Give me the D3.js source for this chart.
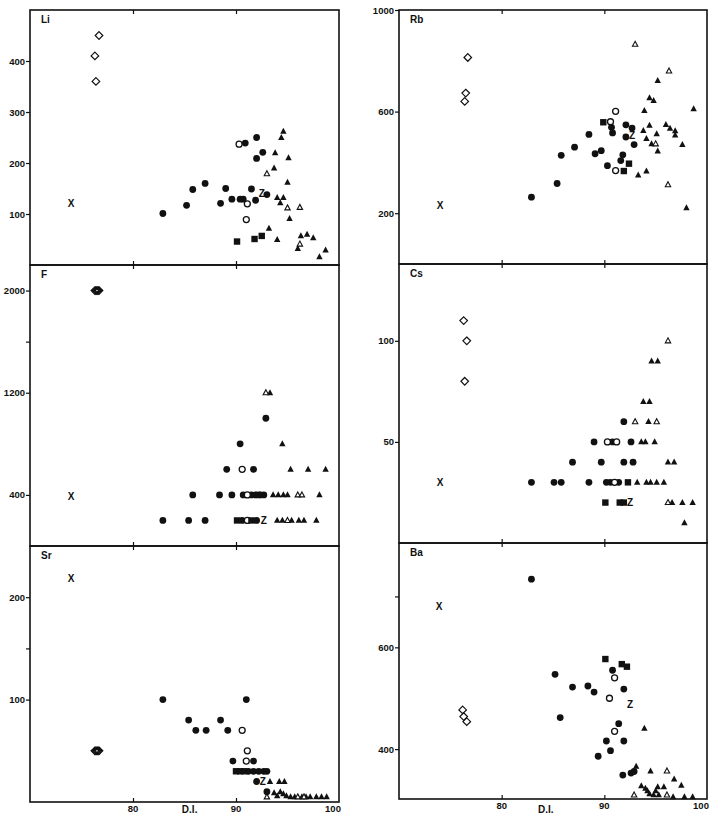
<!DOCTYPE html>
<html><head><meta charset="utf-8">
<script src="https://cdn.jsdelivr.net/npm/d3@7"></script>
<style>
body{margin:0;background:#fff}
text{font-family:"Liberation Sans",Arial,Helvetica,sans-serif;font-weight:bold;fill:#111}
</style>
</head><body>
<svg id="chart" width="711" height="816"></svg>
<script>
// ---------- DATA ----------
const xDomain = [70, 100];
const xTickValues = [80, 90, 100];
const xLabel = "D.I.";

// each point: [symbol, D.I., value]
const liPoints = [
 ["diamond",76.7,450],["diamond",76.3,410],["diamond",76.4,360],
 ["X",74.0,120],
 ["dot",82.9,101],["dot",85.2,117],["dot",85.8,148],["dot",87.0,160],["dot",88.5,121],["dot",89.0,150],
 ["dot",89.6,129],["dot",90.4,129],["dot",90.7,129],["dot",91.5,149],["dot",91.9,127],["dot",93.0,138],
 ["dot",90.9,239],["dot",92.0,250],["dot",92.6,221],["dot",92.0,209],
 ["circle",90.3,237],["circle",91.1,120],["circle",91.0,89],
 ["Z",92.5,141],
 ["square",90.1,46],["square",91.8,51],["square",92.5,57],
 ["tri",94.6,262],["tri",94.4,250],["tri",93.8,220],["tri",95.1,210],["tri",93.7,190],["tri",95.0,162],
 ["tri",94.0,132],["tri",94.6,132],["tri",94.3,122],["tri",95.2,91],["tri",93.2,72],["tri",94.0,50],
 ["tri",96.3,57],["tri",96.9,60],["tri",97.5,53],["tri",96.0,32],["tri",98.7,29],["tri",98.1,16],
 ["otri",93.0,179],["otri",95.0,112],["otri",96.2,113],["otri",96.2,41]
];
const rbPoints = [
 ["diamond",76.7,813],["diamond",76.5,673],["diamond",76.4,640],
 ["X",74.0,231],
 ["dot",82.9,263],["dot",85.4,317],["dot",85.8,428],["dot",87.1,460],["dot",88.5,510],["dot",89.1,434],
 ["dot",89.7,446],["dot",90.3,387],["dot",90.7,538],["dot",90.8,516],["dot",92.1,548],["dot",92.7,535],
 ["dot",92.1,500],["dot",92.9,470],["dot",91.8,430],["dot",91.6,407],
 ["circle",91.1,601],["circle",90.6,560],["circle",91.1,368],
 ["square",89.9,558],["square",92.4,395],["square",91.9,366],
 ["Z",92.7,505],
 ["tri",95.2,722],["tri",94.4,654],["tri",94.8,643],["tri",93.9,604],["tri",98.7,611],["tri",94.4,546],
 ["tri",93.8,525],["tri",96.0,549],["tri",96.4,534],["tri",96.9,524],["tri",96.9,507],["tri",95.1,512],
 ["tri",94.1,494],["tri",94.6,473],["tri",95.2,444],["tri",97.6,470],["tri",93.3,350],["tri",94.1,366],
 ["tri",98.0,221],
 ["otri",93.0,865],["otri",96.3,760],["otri",96.2,312],["otri",95.0,473]
];
const fPoints = [
 ["diamond",76.3,2000],["diamond",76.4,2000],["diamond",76.5,2000],["diamond",76.6,2000],["diamond",76.7,2000],
 ["X",74.0,390],
 ["dot",92.9,1000],["dot",90.4,800],["dot",89.1,600],["dot",91.7,600],
 ["dot",85.8,400],["dot",88.4,400],["dot",89.6,400],["dot",90.7,400],["dot",91.5,400],["dot",91.9,400],
 ["dot",92.3,400],["dot",92.7,400],
 ["dot",82.9,200],["dot",85.4,200],["dot",87.0,200],["dot",90.6,200],["dot",92.0,200],
 ["circle",90.6,600],["circle",91.1,400],["circle",91.1,200],
 ["square",90.1,200],["square",91.5,200],["square",92.2,400],
 ["Z",92.7,200],
 ["tri",93.3,1200],["tri",94.5,800],["tri",95.3,600],["tri",97.0,600],["tri",98.7,600],
 ["tri",93.6,400],["tri",94.1,400],["tri",94.6,400],["tri",95.0,400],["tri",98.1,400],
 ["tri",94.0,200],["tri",94.5,200],["tri",95.4,200],["tri",96.1,200],["tri",96.6,200],["tri",97.8,200],
 ["otri",92.9,1200],["otri",96.0,400],["otri",96.4,400],["otri",95.0,200]
];
const csPoints = [
 ["diamond",76.3,110],["diamond",76.6,100],["diamond",76.4,80],
 ["X",74.0,30],
 ["dot",91.9,60],["dot",89.0,50],["dot",90.8,50],["dot",92.6,50],["dot",86.9,40],["dot",89.7,40],
 ["dot",91.9,40],["dot",92.8,40],["dot",82.9,30],["dot",85.1,30],["dot",85.8,30],["dot",88.5,30],
 ["dot",90.2,30],["dot",90.6,30],["dot",91.4,30],
 ["circle",90.3,50],["circle",91.2,50],["circle",91.0,30],
 ["square",92.3,30],["square",90.1,20],["square",91.5,20],["square",91.9,20],
 ["Z",92.5,20],
 ["tri",94.6,90],["tri",95.2,90],["tri",93.8,70],["tri",94.4,70],["tri",94.3,60],["tri",93.6,50],
 ["tri",94.0,50],["tri",94.9,50],["tri",96.2,40],["tri",96.8,40],["tri",93.2,30],["tri",94.1,30],
 ["tri",94.5,30],["tri",95.1,30],["tri",95.8,30],["tri",96.6,20],["tri",97.6,20],["tri",98.6,20],
 ["tri",97.8,10],
 ["otri",96.2,100],["otri",93.0,60],["otri",95.1,60],["otri",96.2,20]
];
const srPoints = [
 ["X",74.0,218],
 ["diamond",76.3,50],["diamond",76.4,50],["diamond",76.5,50],["diamond",76.6,50],["diamond",76.7,50],
 ["dot",82.9,100],["dot",91.0,100],["dot",85.4,80],["dot",88.5,80],["dot",86.1,70],["dot",87.1,70],
 ["dot",89.2,70],["dot",89.7,40],["dot",91.7,40],["dot",91.2,30],["dot",91.7,30],["dot",92.2,30],
 ["dot",92.7,30],["dot",93.0,30],["dot",92.0,20],["dot",93.0,10],
 ["circle",90.6,70],["circle",91.1,50],["circle",91.0,40],
 ["square",90.0,30],["square",90.4,30],["square",90.8,30],
 ["Z",92.6,20],
 ["tri",93.3,20],["tri",94.2,20],["tri",94.7,20],["tri",93.7,9],["tri",94.3,10],["tri",94.6,8],
 ["tri",94.0,6],["tri",94.9,6],["tri",95.3,5],["tri",95.7,5],["tri",96.4,5],["tri",96.8,5],
 ["tri",97.2,5],["tri",97.8,5],["tri",98.3,5],["tri",98.8,5],
 ["otri",93.0,5],["otri",96.0,5],["otri",96.6,5]
];
const baPoints = [
 ["dot",82.9,734],["dot",90.8,555],["dot",85.2,547],["dot",86.9,522],["dot",88.4,524],["dot",89.0,512],
 ["dot",91.9,518],["dot",85.7,462],["dot",91.4,450],["dot",90.2,416],["dot",91.9,416],["dot",90.6,397],
 ["dot",89.4,386],["dot",91.8,349],["dot",92.6,353],["dot",92.9,356],
 ["X",73.9,681],
 ["diamond",76.2,477],["diamond",76.3,464],["diamond",76.6,454],
 ["square",90.1,577],["square",91.7,567],["square",92.2,562],
 ["circle",91.0,540],["circle",90.5,500],["circle",91.0,435],
 ["Z",92.5,488],
 ["tri",93.1,366],["tri",93.9,441],["tri",94.5,357],["tri",96.8,341],["tri",97.5,329],["tri",95.2,326],
 ["tri",95.8,326],["tri",93.6,328],["tri",94.0,323],["tri",94.2,318],["tri",94.4,312],["tri",94.8,310],
 ["tri",95.3,310],["tri",96.7,306],["tri",97.8,306],["tri",98.6,306],["tri",95.0,318],
 ["otri",92.9,310],["otri",96.1,357],["otri",96.1,310]
];

const liTicks = [100,200,300,400],   liLabels = [100,200,300,400];
const fTicks  = [400,1200,1600,2000], fLabels  = [400,1200,2000];
const srTicks = [100,150,200],        srLabels = [100,200];
const rbTicks = [200,600,1000],       rbLabels = [200,600,1000];
const csTicks = [50,100],             csLabels = [50,100];
const baTicks = [400,600,700],        baLabels = [400,600];

// ---------- LAYOUT ----------
const cols = [{x0:30, x1:339, labelAt:85.5}, {x0:399, x1:707, labelAt:84.3}];
const panels = [
 {name:"Li", col:0, top:10,  bottom:265, domain:[0,500],   ticks:liTicks, labels:liLabels, data:liPoints},
 {name:"F",  col:0, top:265, bottom:546, domain:[0,2200],  ticks:fTicks,  labels:fLabels,  data:fPoints},
 {name:"Sr", col:0, top:546, bottom:802, domain:[0,250],   ticks:srTicks, labels:srLabels, data:srPoints, xAxis:true},
 {name:"Rb", col:1, top:10,  bottom:264, domain:[0,1000],  ticks:rbTicks, labels:rbLabels, data:rbPoints},
 {name:"Cs", col:1, top:264, bottom:543, domain:[0,138],   ticks:csTicks, labels:csLabels, data:csPoints},
 {name:"Ba", col:1, top:543, bottom:799, domain:[302,805], ticks:baTicks, labels:baLabels, data:baPoints, xAxis:true}
];

const svg = d3.select("#chart");
const ink = "#111";

function diamondPath(r){ return `M0,${-r}L${r},0L0,${r}L${-r},0Z`; }
function triPath(w,h){ return `M0,${-h*0.6}L${w/2},${h*0.4}L${-w/2},${h*0.4}Z`; }

panels.forEach(p => {
  const c = cols[p.col];
  const x = d3.scaleLinear().domain(xDomain).range([c.x0, c.x1]);
  const y = d3.scaleLinear().domain(p.domain).range([p.bottom, p.top]);
  const g = svg.append("g");

  // frame
  g.append("rect").attr("x", c.x0).attr("y", p.top)
    .attr("width", c.x1 - c.x0).attr("height", p.bottom - p.top)
    .attr("fill", "none").attr("stroke", ink).attr("stroke-width", 1.6);

  // y axis (outward ticks on left)
  const yAxis = d3.axisLeft(y).tickValues(p.ticks).tickSize(4).tickPadding(1)
    .tickFormat(d => p.labels.includes(d) ? String(d) : "");
  const ya = g.append("g").attr("transform", `translate(${c.x0},0)`).call(yAxis);
  ya.select(".domain").remove();
  ya.selectAll("line").attr("stroke", ink).attr("stroke-width", 1.2);
  ya.selectAll("text").style("font-size", "9.5px").attr("fill", ink);

  // x ticks inside at top and bottom
  const inner = [80, 90];
  const tb = g.append("g").attr("transform", `translate(0,${p.bottom})`)
    .call(d3.axisBottom(x).tickValues(inner).tickSize(-4).tickFormat(""));
  tb.select(".domain").remove();
  tb.selectAll("line").attr("stroke", ink).attr("stroke-width", 1.2);
  const tt = g.append("g").attr("transform", `translate(0,${p.top})`)
    .call(d3.axisTop(x).tickValues(inner).tickSize(-4).tickFormat(""));
  tt.select(".domain").remove();
  tt.selectAll("line").attr("stroke", ink).attr("stroke-width", 1.2);

  if (p.xAxis) {
    xTickValues.forEach(v => {
      g.append("text").attr("x", x(v) - (v === 100 ? 6 : 0)).attr("y", p.bottom + 10)
        .attr("text-anchor", "middle").style("font-size", "9.5px").text(v);
    });
    g.append("text").attr("x", x(c.labelAt)).attr("y", 813)
      .attr("text-anchor", "middle").style("font-size", "10px").text(xLabel);
  }

  // panel label
  g.append("text").attr("x", c.x0 + 11).attr("y", p.top + 13)
    .style("font-size", "10px").text(p.name);

  // points
  const pts = g.append("g");
  p.data.forEach(([s, dx, v]) => {
    const px = x(dx), py = y(v);
    if (s === "dot") {
      pts.append("circle").attr("cx", px).attr("cy", py).attr("r", 3.4).attr("fill", ink);
    } else if (s === "circle") {
      pts.append("circle").attr("cx", px).attr("cy", py).attr("r", 3.0)
        .attr("fill", "#fff").attr("stroke", ink).attr("stroke-width", 1.3);
    } else if (s === "square") {
      pts.append("rect").attr("x", px - 3.2).attr("y", py - 3.2).attr("width", 6.4).attr("height", 6.4).attr("fill", ink);
    } else if (s === "tri") {
      pts.append("path").attr("transform", `translate(${px},${py})`).attr("d", triPath(6.4, 6)).attr("fill", ink);
    } else if (s === "otri") {
      pts.append("path").attr("transform", `translate(${px},${py})`).attr("d", triPath(5.4, 5))
        .attr("fill", "#fff").attr("stroke", ink).attr("stroke-width", 1.1);
    } else if (s === "diamond") {
      pts.append("path").attr("transform", `translate(${px},${py})`).attr("d", diamondPath(3.8))
        .attr("fill", "none").attr("stroke", ink).attr("stroke-width", 1.2);
    } else if (s === "X" || s === "Z") {
      pts.append("text").attr("x", px).attr("y", py).attr("text-anchor", "middle")
        .attr("dominant-baseline", "central").style("font-size", "10px").text(s);
    }
  });
});
</script>
</body></html>
